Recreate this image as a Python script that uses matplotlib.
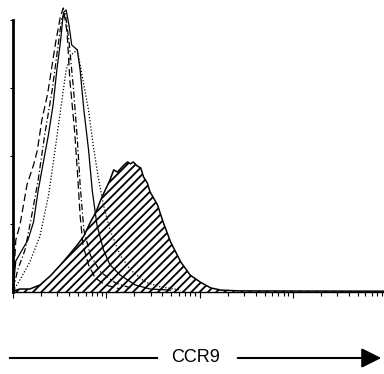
import numpy as np
import matplotlib
matplotlib.use("Agg")
from matplotlib import pyplot as plt

# log10 fluorescence positions and event counts
ccr9_log = [0.00, 0.075, 0.18, 0.29, 0.40, 0.51, 0.61, 0.69, 0.76, 0.83, 0.89, 0.94,
            0.98, 1.01, 1.04, 1.08, 1.12, 1.16, 1.19, 1.23, 1.26, 1.29, 1.33, 1.37,
            1.40, 1.44, 1.47, 1.55, 1.61, 1.69, 1.80, 1.90, 2.01, 2.12, 2.23, 2.44, 4.00]
ccr9_cnt = [0.4, 1.1, 1.1, 2.6, 5.9, 10, 14, 17.3, 20.6, 25.7, 29.4, 33.8,
            36.8, 39, 41.2, 44.9, 44.1, 45.6, 46.7, 47.8, 47.1, 47.8, 46.4, 45.6,
            42.3, 40.1, 36.8, 32, 25.7, 18.4, 11, 6.2, 3.6, 1.5, 0.7, 0.4, 0.3]

solid_log = [0.00, 0.03, 0.10, 0.16, 0.22, 0.27, 0.32, 0.38, 0.43, 0.47, 0.51, 0.54,
             0.57, 0.60, 0.63, 0.69, 0.72, 0.76, 0.81, 0.85, 0.90, 0.97, 1.04, 1.15,
             1.31, 1.47, 1.69]
solid_cnt = [1, 11.4, 15.6, 19.1, 25.7, 37.3, 46.7, 57.8, 68.8, 81.6, 92.3, 102.7,
             103.7, 98.2, 90.8, 89, 81.6, 66.9, 52.3, 37.3, 24.7, 15.5, 10, 6.2,
             2.6, 1.1, 0.7]

dotted_log = [0.00, 0.075, 0.18, 0.29, 0.38, 0.45, 0.51, 0.57, 0.62, 0.69, 0.74,
              0.81, 0.86, 0.91, 0.97, 1.04, 1.15, 1.26, 1.42, 1.58, 1.80]
dotted_cnt = [0.3, 4.5, 11, 20.7, 35.3, 51.9, 66.9, 81.6, 87.1, 89, 79.8,
              66.9, 53.9, 43, 32, 22.8, 13.5, 8.1, 3.6, 1.9, 0.7]

dashed_log = [0.00, 0.03, 0.075, 0.15, 0.22, 0.26, 0.31, 0.37, 0.42, 0.46, 0.51,
              0.54, 0.58, 0.61, 0.66, 0.69, 0.72, 0.75, 0.81, 0.88, 0.99, 1.15]
dashed_cnt = [0.7, 19.1, 24.7, 39.4, 46.7, 51.9, 63.3, 72.6, 83.5, 92.3, 101.6,
              104.4, 95.4, 77.8, 59.5, 44.6, 28, 17.3, 10, 5.2, 2.6, 1.1]

dashdot_log = [0.00, 0.05, 0.13, 0.20, 0.27, 0.34, 0.42, 0.47, 0.52, 0.56, 0.60,
               0.65, 0.69, 0.72, 0.76, 0.83, 0.94, 1.10, 1.26]
dashdot_cnt = [0.7, 8.1, 15.6, 28, 41.2, 57.8, 74.2, 87.1, 100, 102.7, 92.3,
               74.2, 56, 39.4, 22.8, 13.5, 7.3, 3.3, 1.5]

plt.rcParams['hatch.linewidth'] = 1.3

fig = plt.figure(figsize=(3.84, 3.74), dpi=100)
ax = fig.add_axes([13/384, 1-292/374, 373/384, 272/374])

x = 10**np.asarray(ccr9_log)
ax.fill_between(x, ccr9_cnt, 0, facecolor='white', edgecolor='black',
                hatch='////', linewidth=0, clip_on=False)
ax.plot(x, ccr9_cnt, color='black', lw=1.1, clip_on=False)

ax.plot(10**np.asarray(solid_log), solid_cnt, color='black', lw=0.9, clip_on=False)
ax.plot(10**np.asarray(dotted_log), dotted_cnt, color='black', lw=0.9,
        ls=(0, (1, 1.5)), clip_on=False)
ax.plot(10**np.asarray(dashed_log), dashed_cnt, color='black', lw=0.9,
        ls=(0, (6, 3)), clip_on=False)
ax.plot(10**np.asarray(dashdot_log), dashdot_cnt, color='black', lw=0.9,
        ls=(0, (5, 2, 1, 2)), clip_on=False)

ax.set_xscale('log')
ax.set_xlim(1, 10**4)
ax.set_ylim(0, 100)
ax.set_yticks([25, 50, 75, 100])
ax.tick_params(axis='both', which='both', direction='out', labelleft=False,
               labelbottom=False, width=0.8)
ax.tick_params(axis='x', which='major', length=4)
ax.tick_params(axis='x', which='minor', length=3)
ax.tick_params(axis='y', length=2)
for s in ['top', 'right']:
    ax.spines[s].set_visible(False)
ax.spines['left'].set_linewidth(2)
ax.spines['bottom'].set_linewidth(1)

# CCR9 arrow below the plot
yf = 1 - 358/374
fig.add_artist(plt.Line2D([10/384, 157/384], [yf, yf], color='black', lw=1.5))
ax.annotate('', xy=(384/384, yf), xytext=(235/384, yf), xycoords='figure fraction',
            arrowprops=dict(arrowstyle='-|>', lw=1.5, color='black', mutation_scale=30))
fig.text(196/384, yf, 'CCR9', ha='center', va='center', fontsize=13,
         family='Liberation Sans')

fig.savefig('out.png', dpi=100)
